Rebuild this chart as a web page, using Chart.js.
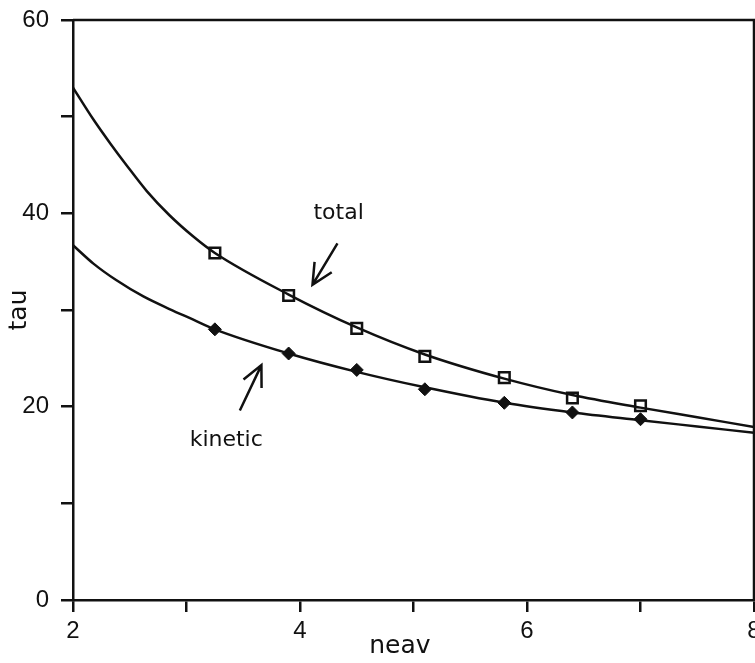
<!DOCTYPE html>
<html>
<head>
<meta charset="utf-8">
<script src="https://cdn.jsdelivr.net/npm/chart.js@4"></script>
<style>
  html, body { margin: 0; padding: 0; background: #fff; }
  #wrap { width: 755px; height: 663px; }
</style>
</head>
<body>
<div id="wrap"><canvas id="tauChart" width="755" height="663"></canvas></div>
<script>
// measured points (neav, tau in ms)
var markerNeav = [3.25, 3.9, 4.5, 5.1, 5.8, 6.4, 7.0];
var totalTau = [35.9, 31.5, 28.1, 25.2, 23.0, 20.9, 20.1];
var kineticTau = [28.0, 25.5, 23.8, 21.8, 20.4, 19.4, 18.7];

// fitted curves
var totalFitNeav = [2.0, 2.18, 2.33, 2.47, 2.65, 2.85, 3.06, 3.25, 3.9, 4.5, 5.1, 5.8, 6.4, 7.0, 7.5, 8.0];
var totalFitTau = [53.0, 49.7, 47.2, 45.0, 42.3, 39.8, 37.6, 35.9, 31.6, 28.2, 25.4, 22.9, 21.2, 19.9, 18.9, 17.9];
var kineticFitNeav = [2.0, 2.18, 2.38, 2.62, 2.85, 3.06, 3.25, 3.9, 4.5, 5.1, 5.8, 6.4, 7.0, 7.5, 8.0];
var kineticFitTau = [36.7, 34.8, 33.1, 31.4, 30.1, 29.0, 28.0, 25.5, 23.6, 22.0, 20.4, 19.4, 18.6, 17.95, 17.3];

var xTickLabels = [2, 4, 6, 8];
var yTickLabels = [0, 20, 40, 60];

var INK = '#111';

function pairs(xs, ys) {
  return xs.map(function (x, i) { return { x: x, y: ys[i] }; });
}

// frame on top/right, x title, plus the arrows and curve labels
var annotate = {
  id: 'annotate',
  afterDraw: function (chart) {
    var ctx = chart.ctx;
    var area = chart.chartArea;
    var xs = chart.scales.x, ys = chart.scales.y;
    function px(x) { return xs.getPixelForValue(x); }
    function py(y) { return ys.getPixelForValue(y); }

    ctx.save();
    ctx.strokeStyle = INK;
    ctx.lineWidth = 2.5;
    ctx.beginPath();
    ctx.moveTo(area.left, area.top);
    ctx.lineTo(area.right, area.top);
    ctx.lineTo(area.right, area.bottom);
    ctx.stroke();

    function arrow(tailX, tailY, tipX, tipY) {
      var x0 = px(tailX), y0 = py(tailY), x1 = px(tipX), y1 = py(tipY);
      var ang = Math.atan2(y1 - y0, x1 - x0);
      var head = 23, spread = 0.45;
      ctx.beginPath();
      ctx.moveTo(x0, y0);
      ctx.lineTo(x1, y1);
      ctx.moveTo(x1 - head * Math.cos(ang - spread), y1 - head * Math.sin(ang - spread));
      ctx.lineTo(x1, y1);
      ctx.lineTo(x1 - head * Math.cos(ang + spread), y1 - head * Math.sin(ang + spread));
      ctx.lineWidth = 2.5;
      ctx.stroke();
    }
    arrow(4.33, 36.9, 4.11, 32.6);
    arrow(3.47, 19.6, 3.66, 24.3);

    ctx.fillStyle = INK;
    ctx.font = '22px "DejaVu Sans"';
    ctx.textAlign = 'center';
    ctx.textBaseline = 'middle';
    ctx.fillText('total', px(4.34), py(40.0));
    ctx.fillText('kinetic', px(3.35), py(16.5));

    // axis title sits a little left of the plot centre
    ctx.font = '25px "DejaVu Sans"';
    ctx.fillText('neav', px(4.88), area.bottom + 46);
    ctx.restore();
  }
};

var ctx = document.getElementById('tauChart').getContext('2d');
var tauChart = new Chart(ctx, {
  type: 'scatter',
  data: {
    datasets: [
      {
        label: 'total fit',
        data: pairs(totalFitNeav, totalFitTau),
        showLine: true,
        borderColor: INK,
        borderWidth: 2.5,
        pointRadius: 0,
        cubicInterpolationMode: 'monotone'
      },
      {
        label: 'kinetic fit',
        data: pairs(kineticFitNeav, kineticFitTau),
        showLine: true,
        borderColor: INK,
        borderWidth: 2.5,
        pointRadius: 0,
        cubicInterpolationMode: 'monotone'
      },
      {
        label: 'total',
        data: pairs(markerNeav, totalTau),
        showLine: false,
        pointStyle: 'rect',
        pointRadius: 7.5,
        pointBorderWidth: 2.5,
        pointBorderColor: INK,
        pointBackgroundColor: '#fff'
      },
      {
        label: 'kinetic',
        data: pairs(markerNeav, kineticTau),
        showLine: false,
        pointStyle: 'rectRot',
        pointRadius: 6.5,
        pointBorderWidth: 1,
        pointBorderColor: INK,
        pointBackgroundColor: INK
      }
    ]
  },
  options: {
    responsive: false,
    animation: false,
    layout: { padding: { top: 20, right: 1, left: 0, bottom: 0 }, autoPadding: false },
    plugins: {
      legend: { display: false },
      tooltip: { enabled: false }
    },
    scales: {
      x: {
        type: 'linear',
        min: 2,
        max: 8,
        border: { color: INK, width: 2.5 },
        grid: { drawOnChartArea: false, color: INK, tickLength: 12, lineWidth: 2.5 },
        ticks: {
          stepSize: 1,
          color: INK,
          padding: 5,
          maxRotation: 0,
          font: { family: '"Liberation Sans"', size: 24 },
          callback: function (v) { return xTickLabels.indexOf(v) >= 0 ? String(v) : ''; }
        },
        title: { display: false },
        afterFit: function (s) {
          s.height = 63;
          s.paddingLeft = 0;
          s.paddingRight = 0;
        }
      },
      y: {
        type: 'linear',
        min: 0,
        max: 60,
        border: { color: INK, width: 2.5 },
        grid: { drawOnChartArea: false, color: INK, tickLength: 12, lineWidth: 2.5 },
        ticks: {
          stepSize: 10,
          color: INK,
          padding: 12,
          font: { family: '"Liberation Sans"', size: 24 },
          callback: function (v) { return yTickLabels.indexOf(v) >= 0 ? String(v) : ''; }
        },
        title: {
          display: true,
          text: 'tau',
          color: INK,
          font: { family: '"DejaVu Sans"', size: 25 },
          padding: { top: 4, bottom: 0 }
        },
        afterFit: function (s) {
          s.width = 73;
          s.paddingTop = 0;
          s.paddingBottom = 0;
        }
      }
    }
  },
  plugins: [annotate]
});
</script>
</body>
</html>
